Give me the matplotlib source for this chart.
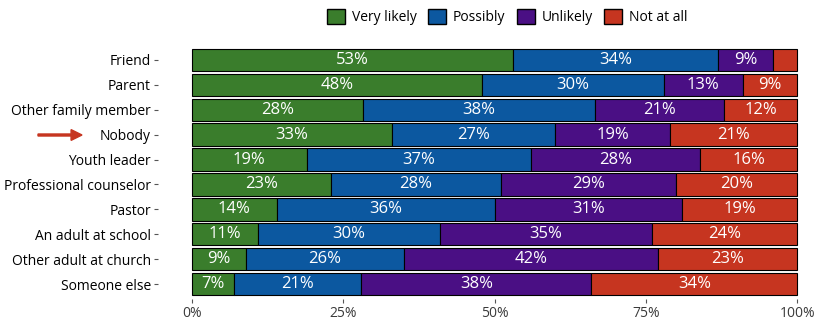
import matplotlib
matplotlib.use("Agg")
import matplotlib.pyplot as plt
import numpy as np
from matplotlib.patches import Patch

plt.rcParams['font.family'] = ['Open Sans', 'DejaVu Sans']

categories = ["Friend", "Parent", "Other family member", "Nobody", "Youth leader",
              "Professional counselor", "Pastor", "An adult at school",
              "Other adult at church", "Someone else"]
very_likely = [53, 48, 28, 33, 19, 23, 14, 11, 9, 7]
possibly = [34, 30, 38, 27, 37, 28, 36, 30, 26, 21]
unlikely = [9, 13, 21, 19, 28, 29, 31, 35, 42, 38]
not_at_all = [4, 9, 12, 21, 16, 20, 19, 24, 23, 34]

series = [("Very likely", very_likely, "#3a7d2c"),
          ("Possibly", possibly, "#0c58a0"),
          ("Unlikely", unlikely, "#4a0f84"),
          ("Not at all", not_at_all, "#c63520")]

data = np.array([s[1] for s in series], dtype=float)
shares = data / data.sum(axis=0) * 100

fig = plt.figure(figsize=(8.4, 3.36), dpi=100)
ax = fig.add_axes([0.2262, 0.11, 0.725, 0.756])

y = np.arange(len(categories))
left = np.zeros(len(categories))
for (name, vals, color), w in zip(series, shares):
    ax.barh(y, w, left=left, height=0.9, color=color, edgecolor="black", linewidth=0.8)
    for yi, l, wi, v in zip(y, left, w, vals):
        if v >= 5:
            ax.text(l + wi / 2, yi, f"{v}%", ha="center", va="center",
                    color="white", fontsize=12)
    left += w

ax.set_ylim(len(categories) - 0.4, -0.6)
ax.set_xlim(-0.3, 100.3)
ax.set_yticks(y)
ax.set_yticklabels(categories, fontsize=10, color="#3a3a3a")
ax.set_xticks([0, 25, 50, 75, 100])
ax.set_xticklabels(["0%", "25%", "50%", "75%", "100%"], fontsize=10, color="#3a3a3a")
ax.tick_params(axis="both", length=3, width=0.8, color="#555555", pad=2)
for s in ax.spines.values():
    s.set_visible(False)
ax.spines["left"].set_position(("outward", 23))

handles = [Patch(facecolor=c, edgecolor="black", label=n) for n, _, c in series]
fig.legend(handles=handles, loc="center", bbox_to_anchor=(0.604, 0.95), ncol=4,
           frameon=False, fontsize=10, handlelength=1.3, handleheight=1.3,
           handletextpad=0.5, columnspacing=0.8)

fig.patches.append(matplotlib.patches.FancyArrow(
    38 / 840, 1 - 135 / 336, 44 / 840, 0, width=0.006, head_width=0.032,
    head_length=0.013, length_includes_head=True, color="#c63520",
    transform=fig.transFigure, figure=fig))

fig.savefig("out.png", dpi=100)
